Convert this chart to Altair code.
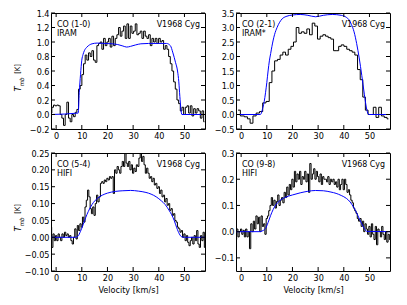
import altair as alt
import pandas as pd

FONT = "DejaVu Sans Condensed, DejaVu Sans, Liberation Sans"
FS = 9
AFS = 8.8

x_ticks = [0, 10, 20, 30, 40, 50]

# ---------- CO (1-0) IRAM ----------
p1_obs_t = [0.02, 0.1, 0.13, 0.12, 0.13, 0.12, 0.0, -0.05, -0.15, 0.0, 0.17, -0.05, -0.1, 0.0,
            -0.03, 0.03, 0.07, 0.35, 0.4, 0.55, 0.7, 0.82, 0.75, 0.85, 0.8, 0.88, 0.75, 0.72,
            0.95, 0.98, 1.0, 0.9, 1.05, 0.95, 1.0, 1.05, 0.93, 1.08, 0.95, 1.05, 1.1, 1.2, 1.08,
            1.15, 1.22, 1.05, 1.25, 1.05, 1.22, 1.12, 1.15, 1.25, 1.1, 1.12, 1.15, 1.05, 1.15,
            1.08, 1.05, 1.1, 0.95, 1.05, 1.0, 1.05, 0.98, 1.05, 1.0, 1.02, 0.9, 0.95, 0.9, 0.8,
            0.7, 0.6, 0.45, 0.35, 0.2, 0.15, 0.05, 0.1, 0.0, 0.1, 0.12, 0.02, 0.12, -0.02, 0.08,
            0.02, 0.08, 0.05, -0.05, 0.05, -0.1]
p1_obs_v = [round(-2.0 + 0.65 * i, 2) for i in range(len(p1_obs_t))]
p1_mod_v = [-2, 8.6, 9.0, 9.5, 10.0, 10.5, 11.0, 12.0, 13.0, 14.0, 16.0, 19.0, 22.0, 24.0, 26.0,
            27.5, 29.0, 31.0, 33.0, 36.0, 40.0, 43.0, 44.5, 45.5, 46.5, 47.3, 47.8, 48.2, 48.6,
            49.0, 58]
p1_mod_t = [0, 0.02, 0.3, 0.55, 0.75, 0.83, 0.88, 0.93, 0.96, 0.975, 0.985, 0.98, 0.975, 0.965,
            0.945, 0.93, 0.94, 0.96, 0.975, 0.98, 0.98, 0.98, 0.95, 0.85, 0.72, 0.6, 0.45, 0.25,
            0.08, 0.0, 0]

# ---------- CO (2-1) IRAM* ----------
p2_obs_v = [-1.2, 0.6, 1.9, 3.0, 4.0, 5.2, 6.5, 7.8, 9.0, 10.4, 11.5, 12.5, 13.6, 14.7, 15.7,
            16.8, 17.8, 18.9, 19.9, 20.9, 22.0, 23.0, 24.0, 25.1, 26.1, 27.2, 28.2, 29.2, 30.3,
            31.3, 32.4, 33.4, 34.4, 35.5, 36.5, 37.5, 38.5, 39.5, 40.6, 41.7, 42.7, 43.8, 44.8,
            45.9, 46.9, 47.9, 48.9, 50.0, 51.0, 52.0, 53.1, 54.1, 55.2, 56.3, 57.4]
p2_obs_t = [0.15, -0.05, -0.08, -0.15, -0.3, -0.05, 0.05, 0.1, 0.4, 0.45, 1.1, 1.5, 1.85, 1.9,
            2.05, 2.15, 2.05, 2.25, 2.35, 2.5, 3.0, 2.8, 2.85, 2.8, 2.95, 2.75, 3.15, 3.05, 2.6,
            2.7, 2.75, 2.7, 2.65, 2.6, 2.2, 2.2, 2.35, 2.4, 2.35, 2.25, 2.2, 2.15, 2.05, 1.55,
            1.2, 0.6, 0.15, 0.0, 0.0, 0.25, -0.1, 0.25, -0.05, -0.1, -0.15]
p2_mod_v = [-2, 7.5, 8.5, 9.0, 9.5, 10.0, 10.5, 11.0, 11.5, 12.0, 13.0, 14.0, 15.0, 16.0, 17.5,
            20.0, 23.0, 26.0, 29.0, 32.0, 35.5, 39.0, 41.0, 42.0, 43.0, 44.0, 45.0, 46.0, 47.0,
            48.0, 49.0, 49.7, 58]
p2_mod_t = [0, 0, 0.25, 0.45, 0.75, 1.1, 1.5, 1.85, 2.1, 2.35, 2.75, 3.0, 3.18, 3.3, 3.38, 3.43,
            3.45, 3.42, 3.37, 3.42, 3.45, 3.42, 3.35, 3.27, 3.1, 2.85, 2.45, 1.95, 1.35, 0.7,
            0.15, 0.0, 0]

# ---------- CO (5-4) HIFI ----------
p3_obs_t = [0.03, -0.03, 0.01, -0.01, 0.005, -0.01, 0.01, 0.0, -0.01, 0.01, 0.0, 0.015, 0.005,
            0.01, 0.0, 0.005, -0.01, -0.02, 0.0, 0.025, -0.005, 0.035, 0.02, 0.04, 0.03, 0.06,
            0.045, 0.09, 0.11, 0.14, 0.12, 0.085, 0.07, 0.09, 0.065, 0.1, 0.125, 0.105, 0.12,
            0.16, 0.165, 0.16, 0.17, 0.165, 0.175, 0.17, 0.18, 0.175, 0.18, 0.13, 0.2, 0.19,
            0.21, 0.2, 0.19, 0.21, 0.225, 0.21, 0.25, 0.22, 0.21, 0.225, 0.2, 0.215, 0.19, 0.205,
            0.195, 0.215, 0.21, 0.235, 0.25, 0.225, 0.24, 0.215, 0.19, 0.205, 0.19, 0.175, 0.18,
            0.165, 0.175, 0.155, 0.16, 0.145, 0.15, 0.13, 0.14, 0.12, 0.125, 0.105, 0.115, 0.095,
            0.1, 0.08, 0.085, 0.065, 0.07, 0.05, 0.045, 0.03, 0.025, 0.015, 0.02, 0.0, 0.01,
            -0.01, 0.005, -0.015, -0.025, -0.01, 0.0, -0.02, 0.005, -0.01, 0.02, -0.02, -0.03,
            0.005, -0.01, 0.015, -0.03]
p3_obs_v = [round(-2.0 + 0.5 * i, 2) for i in range(len(p3_obs_t))]
p3_mod_v = [-2, 7.5, 8.5, 9.5, 10.5, 11.5, 12.5, 13.5, 14.5, 16, 18, 20, 23, 26, 29, 32, 35, 37,
            39, 41, 42.5, 44, 45, 46, 47, 48, 49, 50, 58]
p3_mod_t = [0, 0, 0.003, 0.018, 0.037, 0.058, 0.076, 0.091, 0.103, 0.115, 0.125, 0.131, 0.136,
            0.138, 0.139, 0.137, 0.133, 0.128, 0.12, 0.108, 0.097, 0.08, 0.067, 0.05, 0.028,
            0.01, 0.001, 0.0, 0]

# ---------- CO (9-8) HIFI ----------
p4_obs_t = [-0.03, 0.01, -0.02, 0.0, 0.01, -0.01, 0.005, -0.02, 0.01, -0.02, 0.0, -0.065, 0.03,
            0.0, 0.04, 0.01, 0.06, 0.03, 0.055, 0.0, 0.06, 0.02, 0.03, -0.01, 0.05, 0.06, 0.08,
            0.1, 0.13, 0.1, 0.12, 0.09, 0.115, 0.14, 0.1, 0.12, 0.13, 0.11, 0.15, 0.13, 0.17,
            0.14, 0.18, 0.16, 0.2, 0.17, 0.23, 0.19, 0.22, 0.2, 0.23, 0.18, 0.21, 0.2, 0.23, 0.19,
            0.22, 0.15, 0.26, 0.2, 0.22, 0.24, 0.2, 0.23, 0.21, 0.19, 0.22, 0.18, 0.21, 0.2, 0.2,
            0.19, 0.21, 0.18, 0.2, 0.19, 0.2, 0.18, 0.19, 0.17, 0.2, 0.16, 0.18, 0.2, 0.16, 0.2,
            0.18, 0.15, 0.16, 0.14, 0.12, 0.11, 0.09, 0.08, 0.07, 0.05, 0.04, 0.05, 0.02, 0.04,
            0.0, 0.03, 0.01, -0.01, 0.02, -0.02, 0.03, -0.01, -0.03, 0.02, -0.05, 0.01, 0.0,
            -0.02, 0.02, -0.01, -0.03, 0.0, -0.04, -0.01, -0.03]
p4_obs_v = [round(-2.0 + 0.5 * i, 2) for i in range(len(p4_obs_t))]
p4_mod_v = [-2, 7.0, 8.5, 9.5, 10.5, 11.5, 12.5, 13.5, 15, 17, 20, 23, 26, 29, 32, 35, 37, 39,
            41, 42.5, 44, 45, 46, 47, 48, 49, 58]
p4_mod_t = [0, 0, 0.004, 0.012, 0.035, 0.062, 0.085, 0.102, 0.118, 0.13, 0.14, 0.148, 0.154,
            0.157, 0.156, 0.151, 0.146, 0.138, 0.127, 0.113, 0.09, 0.072, 0.05, 0.03, 0.012,
            0.001, 0]


def panel(ov, ot, mv, mt, ydom, yticks, yfmt, lab1, lab2, W, H, ytitle, xtitle):
    obs = pd.DataFrame({"v": ov, "t": ot})
    mod = pd.DataFrame({"v": mv, "t": mt})
    xax = dict(values=x_ticks, format="d", labelPadding=2, labelFlush=False, grid=False,
               ticks=False, tickSize=0, domain=False, labelFont=FONT, labelFontSize=FS,
               labelColor="black", titleFont=FONT, titleFontSize=9, titleFontWeight="normal",
               titleColor="black", titlePadding=3)
    xax["title"] = "Velocity [km/s]" if xtitle else None
    x = alt.X("v:Q", scale=alt.Scale(domain=[-2, 58], nice=False, zero=False),
              axis=alt.Axis(**xax))
    y = alt.Y("t:Q", scale=alt.Scale(domain=ydom, nice=False, zero=False),
              axis=alt.Axis(values=yticks, format=yfmt, title=None, labelPadding=2,
                            labelFlush=False, labelOverlap=False, grid=False, ticks=False,
                            tickSize=0, domain=False, labelFont=FONT, labelFontSize=FS,
                            labelColor="black"))
    layers = []
    layers.append(alt.Chart(obs).mark_line(color="black", strokeWidth=1, interpolate="step",
                                           clip=True).encode(x=x, y=y))
    layers.append(alt.Chart(mod).mark_line(color="#0000ff", strokeWidth=1,
                                           interpolate="monotone", clip=True).encode(x=x, y=y))
    xt = pd.DataFrame({"v": x_ticks})
    yt = pd.DataFrame({"t": yticks})
    layers.append(alt.Chart(xt).mark_rule(color="black", strokeWidth=1).encode(
        x=x, y=alt.value(H), y2=alt.value(H - 4)))
    layers.append(alt.Chart(xt).mark_rule(color="black", strokeWidth=1).encode(
        x=x, y=alt.value(0), y2=alt.value(4)))
    layers.append(alt.Chart(yt).mark_rule(color="black", strokeWidth=1).encode(
        y=y, x=alt.value(0), x2=alt.value(4)))
    layers.append(alt.Chart(yt).mark_rule(color="black", strokeWidth=1).encode(
        y=y, x=alt.value(W), x2=alt.value(W - 4)))
    one = pd.DataFrame({"a": [0]})
    layers.append(alt.Chart(one).mark_text(text=lab1, align="left", baseline="alphabetic",
                                           font=FONT, fontSize=AFS, color="black").encode(
        x=alt.value(6), y=alt.value(13.5)))
    layers.append(alt.Chart(one).mark_text(text=lab2, align="left", baseline="alphabetic",
                                           font=FONT, fontSize=AFS, color="black").encode(
        x=alt.value(6), y=alt.value(23)))
    layers.append(alt.Chart(one).mark_text(text="V1968 Cyg", align="right", baseline="alphabetic",
                                           font=FONT, fontSize=AFS, color="black").encode(
        x=alt.value(W - 5), y=alt.value(13.5)))
    if ytitle:
        layers.append(alt.Chart(one).mark_text(text="T", font="DejaVu Sans", fontStyle="italic",
                                               fontSize=8.5, angle=270, align="center",
                                               baseline="middle", color="black").encode(
            x=alt.value(-33), y=alt.value(76)))
        layers.append(alt.Chart(one).mark_text(text="mb", font=FONT, fontStyle="italic",
                                               fontSize=6, angle=270, align="center",
                                               baseline="middle", color="black").encode(
            x=alt.value(-29.5), y=alt.value(69)))
        layers.append(alt.Chart(one).mark_text(text="[K]", font=FONT, fontSize=7.5, angle=270,
                                               align="center", baseline="middle",
                                               color="black").encode(
            x=alt.value(-33), y=alt.value(56)))
    return alt.layer(*layers).properties(width=W, height=H)


W = 154
p1 = panel(p1_obs_v, p1_obs_t, p1_mod_v, p1_mod_t, [-0.2, 1.4],
           [-0.2, 0.0, 0.2, 0.4, 0.6, 0.8, 1.0, 1.2, 1.4], ".1f", "CO (1-0)", "IRAM", W, 116,
           True, False)
p2 = panel(p2_obs_v, p2_obs_t, p2_mod_v, p2_mod_t, [-0.5, 3.5],
           [-0.5, 0.0, 0.5, 1.0, 1.5, 2.0, 2.5, 3.0, 3.5], ".1f", "CO (2-1)", "IRAM*", W, 116,
           False, False)
p3 = panel(p3_obs_v, p3_obs_t, p3_mod_v, p3_mod_t, [-0.10, 0.25],
           [-0.10, -0.05, 0.0, 0.05, 0.10, 0.15, 0.20, 0.25], ".2f", "CO (5-4)", "HIFI", W, 118,
           True, True)
p4 = panel(p4_obs_v, p4_obs_t, p4_mod_v, p4_mod_t, [-0.15, 0.3],
           [-0.1, 0.0, 0.1, 0.2, 0.3], ".1f", "CO (9-8)", "HIFI", W, 118,
           False, True)

chart = alt.vconcat(
    alt.hconcat(p1, p2, spacing=7),
    alt.hconcat(p3, p4, spacing=7),
    spacing=7,
).properties(
    padding={"left": 5, "top": 0, "right": 0, "bottom": 0},
    background="white",
).configure_view(
    stroke="black", strokeWidth=1
).configure_axis(
    grid=False, domain=False, ticks=False, labelFont=FONT, labelFontSize=FS,
    labelColor="black", titleFont=FONT, titleFontSize=9, titleFontWeight="normal",
    titleColor="black", titlePadding=3
)

chart.save("out.html", embed_options={"renderer": "svg", "actions": False})
